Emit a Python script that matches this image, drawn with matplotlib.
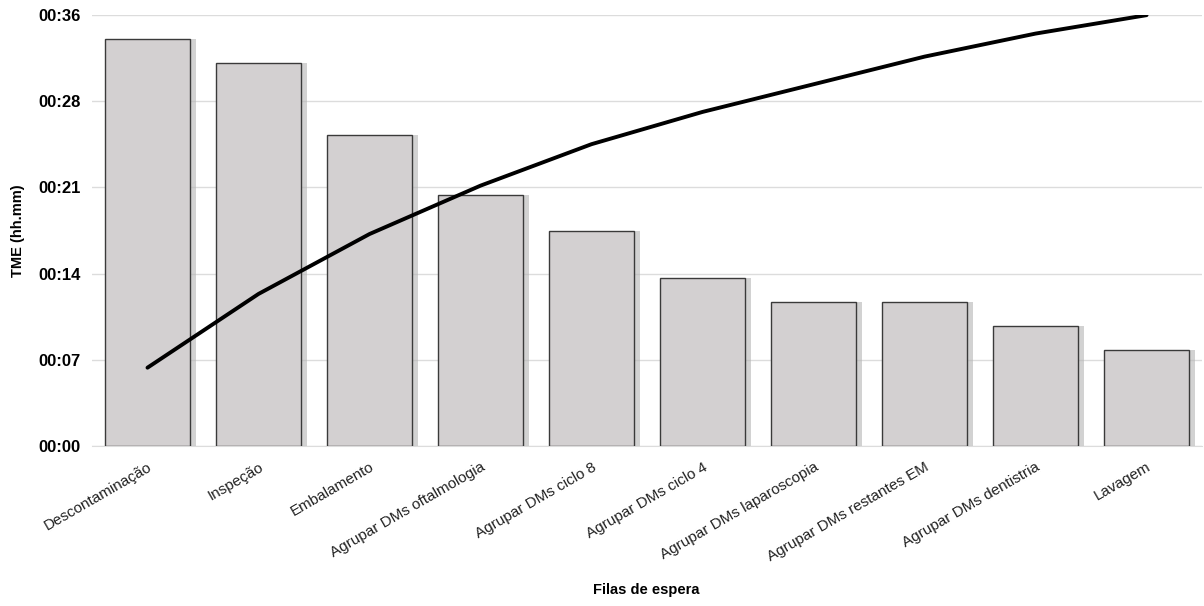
import numpy as np
import matplotlib
matplotlib.use("Agg")
import matplotlib.pyplot as plt
from matplotlib.ticker import FuncFormatter, FixedLocator

plt.rcParams['font.family'] = ['Liberation Sans', 'DejaVu Sans']

# filas de espera e tempo médio de espera (minutos)
filas = ["Descontaminação", "Inspeção", "Embalamento", "Agrupar DMs oftalmologia",
         "Agrupar DMs ciclo 8", "Agrupar DMs ciclo 4", "Agrupar DMs laparoscopia",
         "Agrupar DMs restantes EM", "Agrupar DMs dentistria", "Lavagem"]
tme_min = [34, 32, 26, 21, 18, 14, 12, 12, 10, 8]
y_max = 36

x = np.arange(len(filas))
vals = np.array(tme_min, dtype=float)
# curva de Pareto: acumulado relativo, na escala do eixo
acum = np.cumsum(vals) / vals.sum() * y_max

fig = plt.figure(figsize=(12.04, 6.06), dpi=100)
ax = fig.add_axes([0.0764, 0.264, 0.922, 0.711])

# sombra das barras
ax.bar(x + 0.05, vals, width=0.77, color="#b5b5b5", alpha=0.6, zorder=2, linewidth=0)
ax.bar(x, vals, width=0.77, color="#d3d0d1", edgecolor="#3a3a3a", linewidth=1.0, zorder=3)

ax.plot(x, acum, color="black", linewidth=2.8, solid_capstyle="round", zorder=4)

ax.set_xlim(-0.5, len(filas) - 0.5)
ax.set_ylim(0, y_max)
ax.yaxis.set_major_locator(FixedLocator(np.arange(0, y_max + 0.1, 7.2)))
ax.yaxis.set_major_formatter(FuncFormatter(lambda v, p: "00:%02d" % int(v + 1e-6)))
ax.grid(axis="y", color="#dcdcdc", linewidth=1.0, zorder=0)
ax.set_axisbelow(True)

for s in ["top", "right", "left"]:
    ax.spines[s].set_visible(False)
ax.spines["bottom"].set_color("#dcdcdc")

ax.set_xticks(x)
ax.set_xticklabels(filas, rotation=30, ha="right", rotation_mode="anchor",
                   fontsize=11, color="#222222")
ax.tick_params(axis="x", length=0, pad=10)
ax.tick_params(axis="y", length=0, pad=8, labelsize=12)
for t in ax.get_yticklabels():
    t.set_fontweight("bold")

fig.text(0.537, 0.026, "Filas de espera", fontsize=10.5, fontweight="bold",
         ha="center", va="center")
ax.set_ylabel("TME (hh.mm)", fontsize=10.5, fontweight="bold", labelpad=10)

fig.savefig("out.png", dpi=100)
